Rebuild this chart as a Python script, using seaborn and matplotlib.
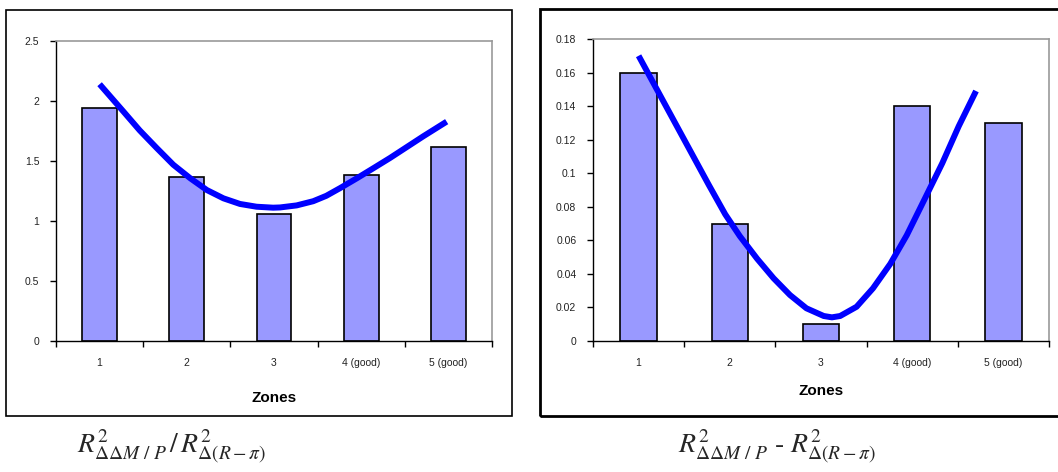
import numpy as np
import pandas as pd
import matplotlib
matplotlib.use("Agg")
import matplotlib.pyplot as plt
from matplotlib.patches import Rectangle
import seaborn as sns

# data
zones = ['1', '2', '3', '4 (good)', '5 (good)']
ratio_vals = [1.94, 1.37, 1.06, 1.38, 1.62]
diff_vals = [0.16, 0.07, 0.01, 0.14, 0.13]

# hand drawn trend curves (x = category position, 0 based)
ratio_curve_x = [0, 0.27, 0.46, 0.655, 0.845, 1.04, 1.23, 1.42, 1.61, 1.80, 1.99,
                 2.07, 2.26, 2.45, 2.60, 2.76, 2.95, 3.14, 3.33, 3.52, 3.71, 3.98]
ratio_curve_y = [2.14, 1.915, 1.755, 1.608, 1.469, 1.356, 1.258, 1.189, 1.142, 1.119, 1.111,
                 1.113, 1.13, 1.165, 1.21, 1.275, 1.356, 1.44, 1.525, 1.615, 1.705, 1.828]
diff_curve_x = [0, 0.22, 0.41, 0.59, 0.77, 0.95, 1.11, 1.30, 1.48, 1.66, 1.84,
                2.03, 2.12, 2.21, 2.39, 2.57, 2.76, 2.94, 3.14, 3.33, 3.51, 3.70]
diff_curve_y = [0.170, 0.148, 0.129, 0.111, 0.093, 0.0755, 0.0625, 0.049, 0.0374, 0.0274, 0.0195,
                0.0149, 0.0141, 0.0149, 0.0204, 0.0314, 0.046, 0.063, 0.085, 0.106, 0.128, 0.149]

ratio_ticks = [0, 0.5, 1, 1.5, 2, 2.5]
ratio_ticklabels = ['0', '0.5', '1', '1.5', '2', '2.5']
diff_ticks = [0, 0.02, 0.04, 0.06, 0.08, 0.1, 0.12, 0.14, 0.16, 0.18]
diff_ticklabels = ['0', '0.02', '0.04', '0.06', '0.08', '0.1', '0.12', '0.14', '0.16', '0.18']

sns.set_style('white')
plt.rcParams['font.family'] = ['Liberation Sans', 'DejaVu Sans']
plt.rcParams['mathtext.fontset'] = 'stix'

W, H = 1058, 472
fig = plt.figure(figsize=(W / 100, H / 100), dpi=100)


def px_axes(x0, y0, x1, y1):
    return fig.add_axes([x0 / W, 1 - y1 / H, (x1 - x0) / W, (y1 - y0) / H])


def draw_panel(ax, vals, cx, cy, ticks, ticklabels, ymax, xlab_pad):
    df = pd.DataFrame({'Zone': zones, 'Value': vals})
    sns.barplot(data=df, x='Zone', y='Value', ax=ax, color='#9999FF', saturation=1,
                edgecolor='black', linewidth=1.2, width=0.4)
    sns.lineplot(x=cx, y=cy, ax=ax, color='#0000FF', linewidth=4.3, sort=False,
                 solid_capstyle='butt', solid_joinstyle='round')
    ax.set_xlim(-0.5, 4.5)
    ax.set_ylim(0, ymax)
    ax.set_yticks(ticks)
    ax.set_yticklabels(ticklabels)
    # tick marks on category boundaries, labels in the middle
    ax.set_xticks(np.arange(-0.5, 5, 1))
    ax.set_xticklabels([])
    ax.set_xticks(range(5), minor=True)
    ax.set_xticklabels(zones, minor=True)
    ax.tick_params(axis='x', which='minor', length=0, pad=12, labelsize=7.5, labelcolor='#222222')
    ax.tick_params(axis='x', which='major', direction='out', length=4, width=1, color='black', bottom=True)
    ax.tick_params(axis='y', direction='out', length=4, width=1, color='black', left=True,
                   pad=8, labelsize=7.5, labelcolor='#222222')
    ax.set_xlabel('Zones', fontsize=11, fontweight='bold', color='black', labelpad=xlab_pad)
    ax.set_ylabel('')
    for side in ['left', 'bottom']:
        ax.spines[side].set_color('black')
        ax.spines[side].set_linewidth(1)
    for side in ['top', 'right']:
        ax.spines[side].set_color('#999999')
        ax.spines[side].set_linewidth(1.2)


ax1 = px_axes(56, 41, 492, 341)
draw_panel(ax1, ratio_vals, ratio_curve_x, ratio_curve_y, ratio_ticks, ratio_ticklabels, 2.5, 17)

ax2 = px_axes(593, 39, 1049, 341)
draw_panel(ax2, diff_vals, diff_curve_x, diff_curve_y, diff_ticks, diff_ticklabels, 0.18, 12)

# outer chart frames
fig.add_artist(Rectangle((6 / W, 1 - 416 / H), 506 / W, 406 / H, transform=fig.transFigure,
                         fill=False, edgecolor='black', linewidth=1.2))
fig.add_artist(Rectangle((540 / W, 1 - 416 / H), 530 / W, 407 / H, transform=fig.transFigure,
                         fill=False, edgecolor='black', linewidth=2))

# captions below the charts
fig.text(172 / W, 1 - 447 / H, r'$R^{2}_{\Delta\Delta M\ /\ P}\,/\,R^{2}_{\Delta(R-\pi)}$',
         ha='center', va='center', fontsize=20)
fig.text(777 / W, 1 - 447 / H, r'$R^{2}_{\Delta\Delta M\ /\ P}$' + ' - ' + r'$R^{2}_{\Delta(R-\pi)}$',
         ha='center', va='center', fontsize=20, family='STIXGeneral')

fig.savefig('out.png', dpi=100)
